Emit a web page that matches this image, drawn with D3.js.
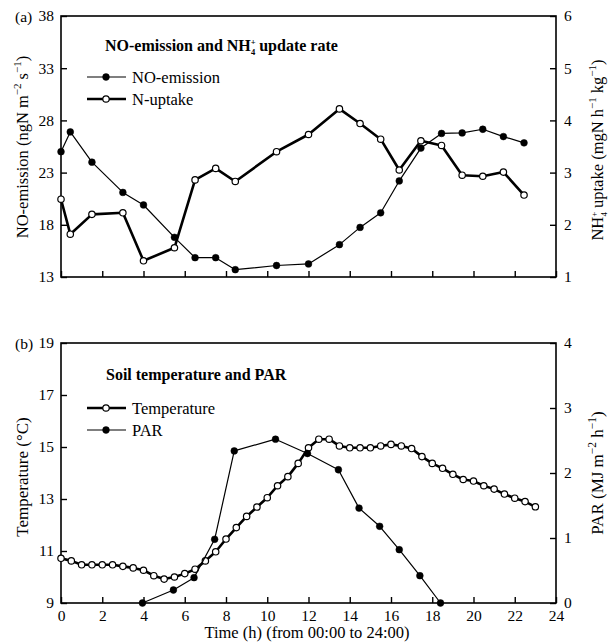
<!DOCTYPE html>
<html><head><meta charset="utf-8">
<script src="https://cdn.jsdelivr.net/npm/d3@7"></script>
<style>
body{margin:0;background:#fff;}
svg{font-family:"Liberation Serif","Times New Roman",serif;}
</style></head>
<body><svg id="c" width="613" height="644"></svg>
<script>
// ---- data: panel (a) ----
const noHours = [0,0.45,1.5,3,4,5.5,6.5,7.5,8.45,10.45,12,13.5,14.5,15.5,16.4,17.45,18.45,19.45,20.45,21.45,22.45];
const noEmission = [25,26.9,24,21.1,19.9,16.8,14.85,14.85,13.7,14.1,14.25,16.1,17.75,19.15,22.2,25.35,26.75,26.8,27.15,26.45,25.85];
const nUptake = [2.49,1.82,2.2,2.23,1.31,1.56,2.86,3.08,2.83,3.4,3.73,4.22,3.94,3.64,3.05,3.61,3.52,2.95,2.93,3.01,2.57];
// ---- data: panel (b) ----
const tempHours = [0,0.5,1,1.5,2,2.5,3,3.5,4,4.5,5,5.5,6,6.5,7,7.5,8,8.5,9,9.5,10,10.5,11,11.5,12,12.5,13,13.5,14,14.5,15,15.5,16,16.5,17,17.5,18,18.5,19,19.5,20,20.5,21,21.5,22,22.5,23];
const temperature = [10.72,10.62,10.47,10.47,10.47,10.47,10.41,10.35,10.26,10.05,9.92,10.0,10.13,10.3,10.62,10.97,11.46,11.9,12.33,12.69,13.05,13.51,13.86,14.37,14.97,15.3,15.3,15.04,14.97,14.97,14.97,15.04,15.1,15.04,14.94,14.63,14.37,14.18,13.95,13.75,13.69,13.51,13.38,13.19,13.03,12.9,12.7];
const parHours = [3.95,5.45,6.45,7.45,8.4,10.4,11.95,13.45,14.45,15.45,16.4,17.4,18.4];
const par = [0,0.2,0.39,0.98,2.34,2.52,2.3,2.05,1.46,1.18,0.82,0.42,0];
// ---- ticks ----
const xTicks = [0,2,4,6,8,10,12,14,16,18,20,22,24];
const noTicks = [13,18,23,28,33,38];
const upTicks = [1,2,3,4,5,6];
const tempTicks = [9,11,13,15,17,19];
const parTicks = [0,1,2,3,4];

const svg = d3.select("#c");
const L = 61, R = 556;
const x = d3.scaleLinear().domain([0,24]).range([L,R]);

function panel(o){
  const g = svg.append("g");
  const yL = d3.scaleLinear().domain(o.lDom).range([o.bot,o.top]);
  const yR = d3.scaleLinear().domain(o.rDom).range([o.bot,o.top]);
  g.append("rect").attr("x",L).attr("y",o.top).attr("width",R-L).attr("height",o.bot-o.top)
    .attr("fill","none").attr("stroke","#000").attr("stroke-width",1.6);
  const ax = d3.axisBottom(x).tickValues(xTicks).tickSize(-6).tickPadding(7)
     .tickFormat(o.xLabels ? d3.format("d") : "");
  const gx = g.append("g").attr("transform",`translate(0,${o.bot})`).call(ax);
  const gl = g.append("g").attr("transform",`translate(${L},0)`)
     .call(d3.axisLeft(yL).tickValues(o.lTicks).tickSize(-6).tickPadding(7).tickFormat(d3.format("d")));
  const gr = g.append("g").attr("transform",`translate(${R},0)`)
     .call(d3.axisRight(yR).tickValues(o.rTicks).tickSize(-6).tickPadding(8).tickFormat(d3.format("d")));
  [gx,gl,gr].forEach(a=>{
    a.select(".domain").remove();
    a.selectAll(".tick line").attr("stroke","#000").attr("stroke-width",1.4);
    a.selectAll("text").attr("font-size",15.5).attr("fill","#000")
      .attr("font-family","Liberation Serif, serif");
  });
  return {g,yL,yR};
}

function series(g, xs, ys, yScale, thick, open){
  const pts = xs.map((h,i)=>[x(h), yScale(ys[i])]);
  g.append("path").attr("d",d3.line()(pts)).attr("fill","none").attr("stroke","#000")
    .attr("stroke-width",thick?2.6:1.2).attr("stroke-linejoin","round");
  g.selectAll(null).data(pts).join("circle").attr("cx",d=>d[0]).attr("cy",d=>d[1])
    .attr("r",open?3.2:3.4).attr("fill",open?"#fff":"#000").attr("stroke","#000")
    .attr("stroke-width",open?1.2:0.5);
}

function legendItem(g, y, label, thick, open){
  g.append("line").attr("x1",87).attr("x2",126).attr("y1",y).attr("y2",y)
    .attr("stroke","#000").attr("stroke-width",thick?2.6:1.2);
  g.append("circle").attr("cx",106).attr("cy",y).attr("r",open?3.2:3.4)
    .attr("fill",open?"#fff":"#000").attr("stroke","#000").attr("stroke-width",open?1.2:0.5);
  g.append("text").attr("x",132).attr("y",y+5.5).attr("font-size",16.5).text(label);
}

// NH4+ with stacked sub/superscript, then the following text back on the baseline
function nh4(t, size, after){
  t.append("tspan").text("NH");
  t.append("tspan").attr("font-size",size).attr("dy",-6).text("+");
  t.append("tspan").attr("font-size",size).attr("dx",-size*0.55).attr("dy",10).text("4");
  t.append("tspan").attr("dy",-4).text(after);
}

// ---------- panel (a) ----------
const A = panel({top:16,bot:277,lDom:[13,38],rDom:[1,6],lTicks:noTicks,rTicks:upTicks,xLabels:false});
series(A.g, noHours, noEmission, A.yL, false, false);
series(A.g, noHours, nUptake, A.yR, true, true);
svg.append("text").attr("x",15).attr("y",22).attr("font-size",15.5).text("(a)");
{
  const t = svg.append("text").attr("x",105).attr("y",51).attr("font-size",16).attr("font-weight","bold");
  t.append("tspan").text("NO-emission and ");
  nh4(t, 8.5, " update rate");
}
legendItem(svg, 77, "NO-emission", false, false);
legendItem(svg, 99, "N-uptake", true, true);
{
  const t = svg.append("text").attr("transform","translate(28,147) rotate(-90)")
    .attr("text-anchor","middle").attr("font-size",16.5);
  t.append("tspan").text("NO-emission (ngN m");
  t.append("tspan").attr("font-size",11).attr("dy",-7).text("−2");
  t.append("tspan").attr("dy",7).text(" s");
  t.append("tspan").attr("font-size",11).attr("dy",-7).text("−1");
  t.append("tspan").attr("dy",7).text(")");
}
{
  const t = svg.append("text").attr("transform","translate(603,150) rotate(-90)")
    .attr("text-anchor","middle").attr("font-size",16.5);
  nh4(t, 9, " uptake (mgN h");
  t.append("tspan").attr("font-size",11).attr("dy",-7).text("−1");
  t.append("tspan").attr("dy",7).text(" kg");
  t.append("tspan").attr("font-size",11).attr("dy",-7).text("−1");
  t.append("tspan").attr("dy",7).text(")");
}

// ---------- panel (b) ----------
const B = panel({top:343,bot:603,lDom:[9,19],rDom:[0,4],lTicks:tempTicks,rTicks:parTicks,xLabels:true});
series(B.g, tempHours, temperature, B.yL, true, true);
series(B.g, parHours, par, B.yR, false, false);
svg.append("text").attr("x",15).attr("y",349).attr("font-size",15.5).text("(b)");
svg.append("text").attr("x",106).attr("y",380).attr("font-size",16).attr("font-weight","bold")
  .text("Soil temperature and PAR");
legendItem(svg, 408, "Temperature", true, true);
legendItem(svg, 430, "PAR", false, false);
svg.append("text").attr("transform","translate(28,477) rotate(-90)")
  .attr("text-anchor","middle").attr("font-size",17).text("Temperature (°C)");
{
  const t = svg.append("text").attr("transform","translate(603,473) rotate(-90)")
    .attr("text-anchor","middle").attr("font-size",17);
  t.append("tspan").text("PAR (MJ m");
  t.append("tspan").attr("font-size",11.5).attr("dy",-7).text("−2");
  t.append("tspan").attr("dy",7).text(" h");
  t.append("tspan").attr("font-size",11.5).attr("dy",-7).text("−1");
  t.append("tspan").attr("dy",7).text(")");
}
svg.append("text").attr("x",307).attr("y",638).attr("text-anchor","middle").attr("font-size",16.5)
  .text("Time (h) (from 00:00 to 24:00)");
</script></body></html>
